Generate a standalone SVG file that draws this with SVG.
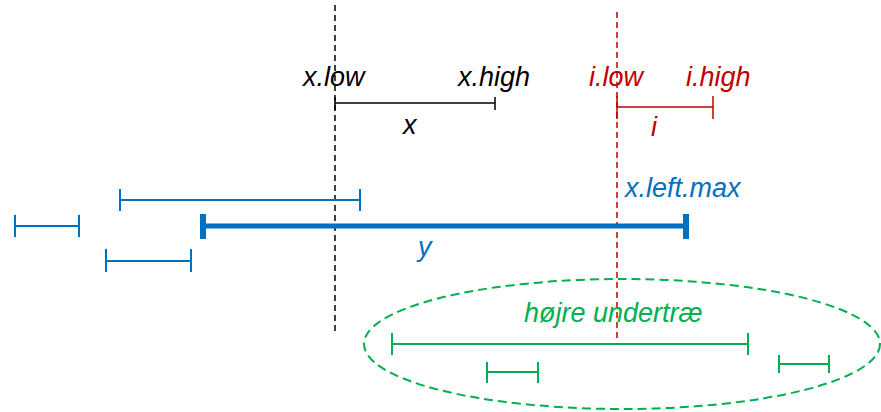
<svg xmlns="http://www.w3.org/2000/svg" width="881" height="412" viewBox="0 0 881 412">
<style>
text{font-family:"Liberation Sans",Arial,sans-serif;font-style:italic;font-size:27px}
.k{stroke:#000;fill:none;stroke-width:1.5}
.r{stroke:#c00000;fill:none;stroke-width:1.5}
.b{stroke:#0070c0;fill:none;stroke-width:2}
.g{stroke:#00b050;fill:none;stroke-width:2}
</style>
<rect width="881" height="412" fill="#fff"/>
<g id="connectors">
<line class="k" x1="335" y1="5" x2="335" y2="332" stroke-dasharray="6,4"/>
<line class="r" x1="617" y1="12" x2="617" y2="340" stroke-dasharray="6,4"/>
</g>
<g id="x-interval">
<path class="k" d="M335 103H495M335 97V110M495 97V110"/>
<text x="303" y="86">x.low</text>
<text x="458" y="86">x.high</text>
<text x="403" y="134">x</text>
</g>
<g id="i-interval">
<path class="r" d="M617 107H713M617 96V119M713 96V119"/>
<text x="589" y="86" fill="#c00000">i.low</text>
<text x="686" y="86" fill="#c00000">i.high</text>
<text x="651" y="136" fill="#c00000">i</text>
</g>
<g id="blue-intervals">
<path class="b" d="M120 200H360M120 189V211M360 189V211"/>
<path class="b" d="M15 226H79M15 215V237M79 215V237"/>
<path class="b" d="M106 261H191M106 249V272M191 249V272"/>
<text x="625" y="197" fill="#0070c0">x.left.max</text>
</g>
<g id="y-interval">
<path d="M203 226H686" stroke="#0070c0" stroke-width="5"/>
<path d="M203 214V239M686 214V239" stroke="#0070c0" stroke-width="6"/>
<text x="418" y="256" fill="#0070c0">y</text>
</g>
<g id="right-subtree">
<ellipse class="g" cx="622" cy="344" rx="258" ry="65" stroke-width="2.5" stroke-dasharray="9,5"/>
<text x="524" y="322" fill="#00b050">højre undertræ</text>
<path class="g" d="M392 344H748M392 333V355M748 333V355"/>
<path class="g" d="M487 372H538M487 362V383M538 362V383"/>
<path class="g" d="M779 364H829M779 355V373M829 355V373"/>
</g>
</svg>
